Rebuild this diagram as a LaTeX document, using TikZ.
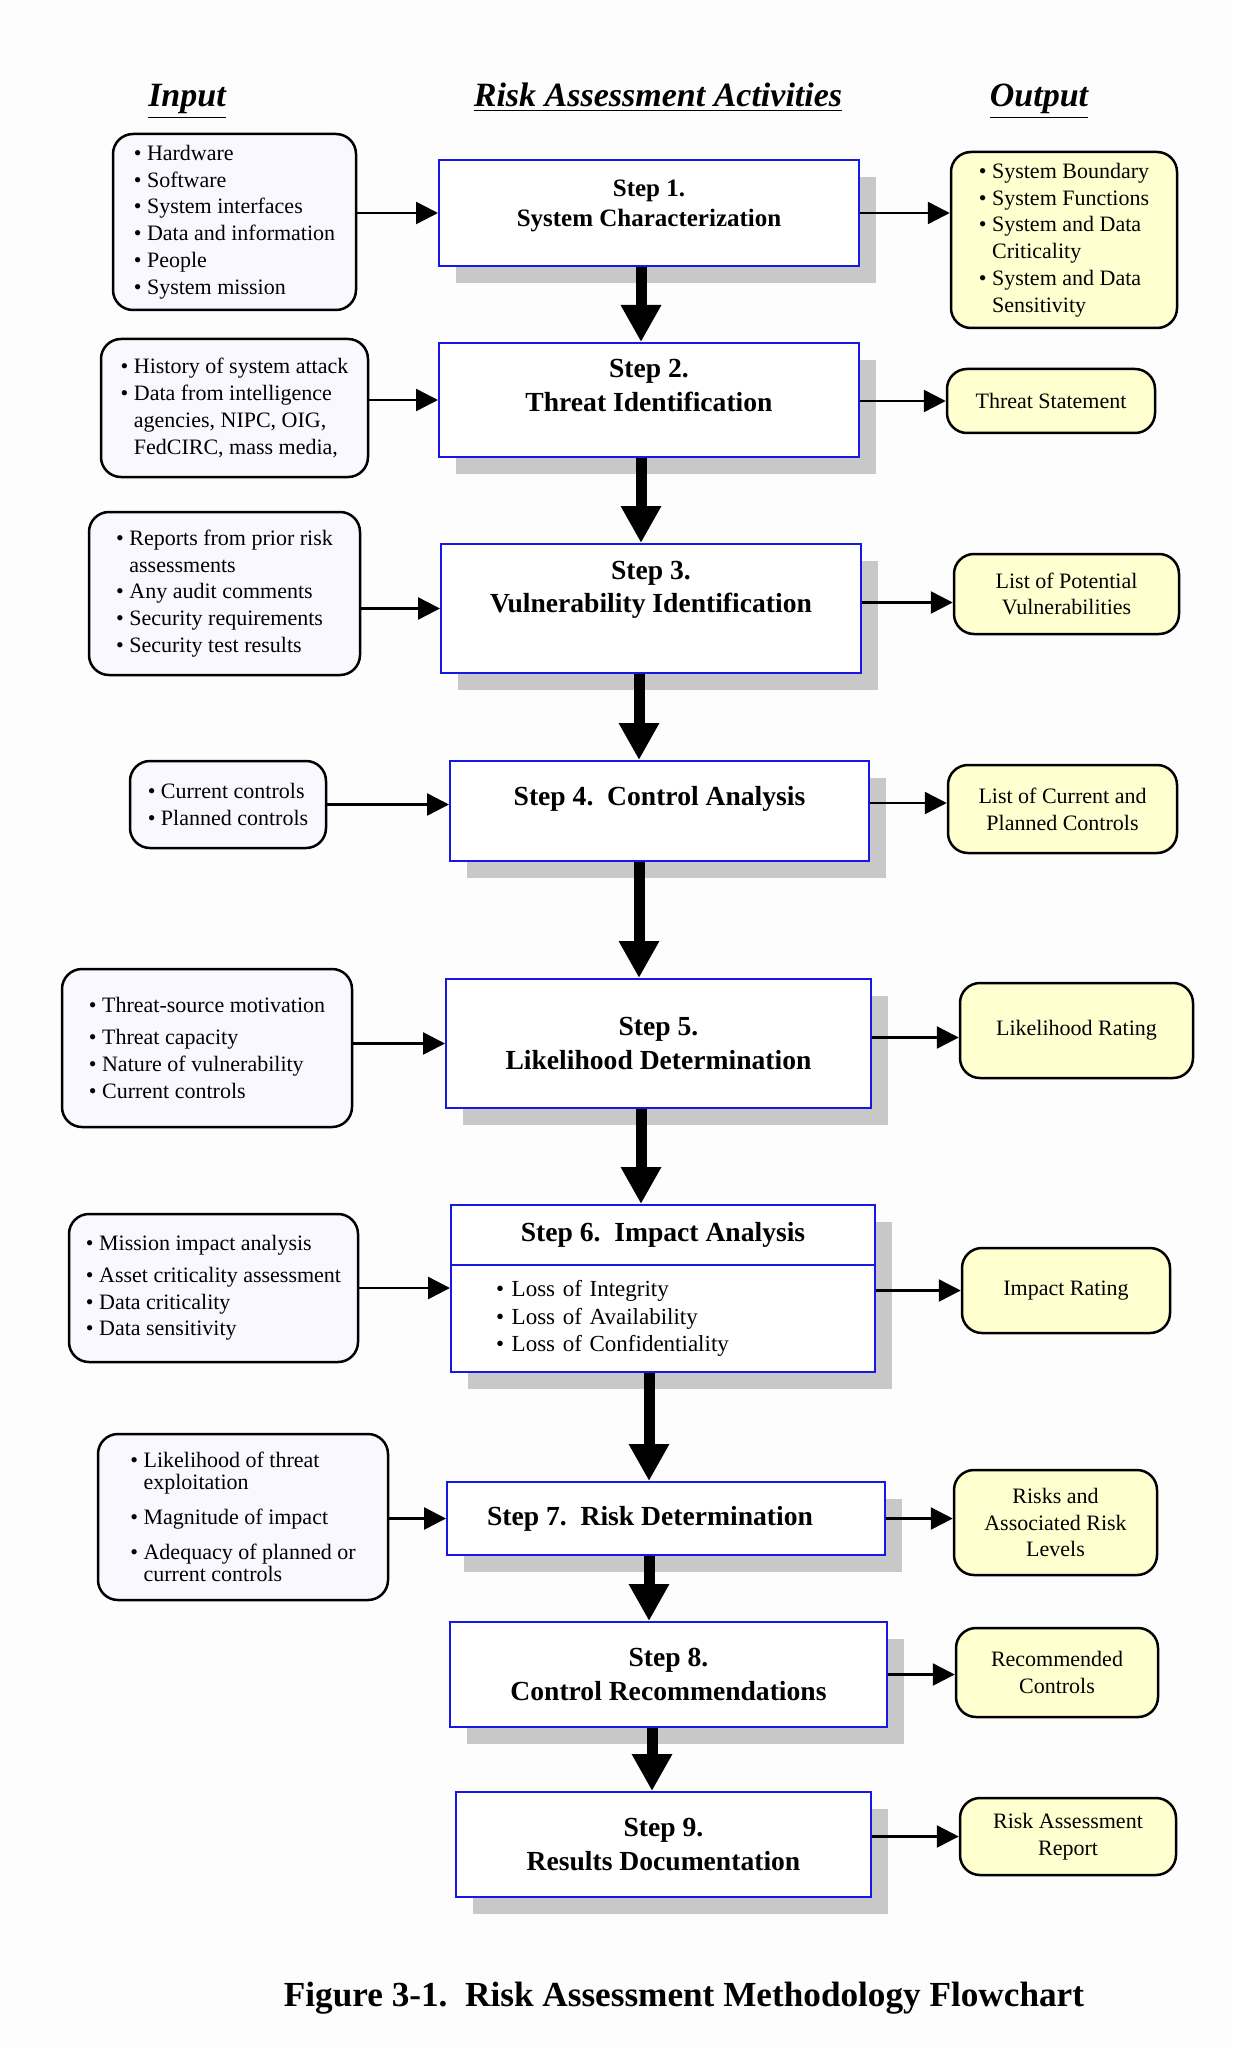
\documentclass[tikz,border=0pt]{standalone}
\usepackage{fontspec}
\setmainfont{Liberation Serif}
\usetikzlibrary{arrows.meta,positioning,shadows}
\definecolor{raBlue}{RGB}{24,24,230}
\definecolor{raShade}{RGB}{200,200,200}
\definecolor{raLilac}{RGB}{250,248,255}
\definecolor{raCream}{RGB}{255,255,208}
\definecolor{raPage}{RGB}{253,253,253}
\newcommand{\raitem}{\textbullet\ }
\newcommand{\rapad}{\phantom{\textbullet\ }}

\begin{document}
\begin{tikzpicture}[x=0.5pt,y=-0.5pt,
  stepbox/.style={draw=raBlue,line width=1pt,fill=white,align=center,inner sep=2pt,
    font=\fontsize{13.8}{16.8}\selectfont\bfseries,
    drop shadow={shadow xshift=8.5pt,shadow yshift=-8.5pt,fill=raShade,opacity=1}},
  inbox/.style={draw,line width=1.25pt,rounded corners=10pt,fill=raLilac,align=left,
    inner sep=3pt,font=\fontsize{11}{13.4}\selectfont},
  outbox/.style={inbox,fill=raCream,align=center},
  head/.style={anchor=base,font=\fontsize{17}{20}\selectfont\bfseries\itshape},
  flow/.style={line width=5.5pt,-{Triangle[length=18.5pt,width=19pt]}},
  feed/.style={line width=1.25pt,-{Triangle[length=11pt,width=11pt]}}]
  \fill[raPage] (0,0) rectangle (1232,2048);
  \useasboundingbox (0,0) rectangle (1232,2048);

  % column heads
  \node[head] (hin) at (187,107) {\underline{Input}};
  \node[head] (hact) at (658,107) {\underline{Risk Assessment Activities}};
  \node[head] (hout) at (1039,107) {\underline{Output}};

  % steps
  \node[stepbox,minimum width=210pt,minimum height=53pt,font=\fontsize{12.5}{15}\selectfont\bfseries]
    (s1) at (649,213) {Step 1.\\System Characterization\\[-5pt]\mbox{}};
  \node[stepbox,minimum width=210pt,minimum height=57pt] (s2) at (649,400)
    {Step 2.\\Threat Identification\\[-2pt]\mbox{}};
  \node[stepbox,minimum width=210pt,minimum height=64.5pt] (s3) at (651,608.5)
    {Step 3.\\Vulnerability Identification\\[5pt]\mbox{}};
  \node[stepbox,minimum width=209.5pt,minimum height=50pt] (s4) at (659.5,811)
    {Step 4.\ \ Control Analysis\\[-2pt]\mbox{}};
  \node[stepbox,minimum width=212.5pt,minimum height=64.5pt] (s5) at (658.5,1043.5)
    {Step 5.\\Likelihood Determination};
  \node[stepbox,minimum width=212pt,minimum height=30pt] (s6) at (663,1235)
    {Step 6.\ \ Impact Analysis};
  \node[stepbox,minimum height=53.5pt,align=left,inner xsep=22.5pt,text width=167pt,
    font=\fontsize{11.5}{13.75}\selectfont] (s6b) at (663,1318.5)
    {\raitem Loss of Integrity\\\raitem Loss of Availability\\\raitem Loss of Confidentiality};
  \node[stepbox,minimum width=219pt,minimum height=36.5pt] (s7) at (666,1518.5)
    {Step 7.\ \ Risk Determination\hspace*{16pt}};
  \node[stepbox,minimum width=218.5pt,minimum height=52.5pt] (s8) at (668.5,1674.5)
    {Step 8.\\Control Recommendations};
  \node[stepbox,minimum width=207.5pt,minimum height=52.5pt] (s9) at (663.5,1844.5)
    {Step 9.\\Results Documentation};

  % inputs
  \node[inbox,minimum width=121.5pt,minimum height=88pt] (in1) at (234.5,222)
    {\raitem Hardware\\\raitem Software\\\raitem System interfaces\\\raitem Data and information\\\raitem People\\\raitem System mission};
  \node[inbox,minimum width=133.5pt,minimum height=69pt] (in2) at (234.5,408)
    {\raitem History of system attack\\\raitem Data from intelligence\\\rapad agencies, NIPC, OIG,\\\rapad FedCIRC, mass media,};
  \node[inbox,minimum width=135.5pt,minimum height=81.5pt] (in3) at (224.5,593.5)
    {\raitem Reports from prior risk\\\rapad assessments\\\raitem Any audit comments\\\raitem Security requirements\\\raitem Security test results};
  \node[inbox,minimum width=98pt,minimum height=43.5pt] (in4) at (228,804.5)
    {\raitem Current controls\\\raitem Planned controls};
  \node[inbox,minimum width=145pt,minimum height=79pt] (in5) at (207,1048)
    {\raitem Threat-source motivation\\[2.5pt]\raitem Threat capacity\\\raitem Nature of vulnerability\\\raitem Current controls};
  \node[inbox,minimum width=144.5pt,minimum height=74pt] (in6) at (213.5,1288)
    {\raitem Mission impact analysis\\[2.5pt]\raitem Asset criticality assessment\\\raitem Data criticality\\\raitem Data sensitivity};
  \node[inbox,minimum width=145pt,minimum height=83pt,font=\fontsize{11}{11}\selectfont] (in7) at (243,1517)
    {\raitem Likelihood of threat\\\rapad exploitation\\[6.5pt]\raitem Magnitude of impact\\[6.5pt]\raitem Adequacy of planned or\\\rapad current controls};

  % outputs
  \node[outbox,align=left,minimum width=113pt,minimum height=88pt] (o1) at (1064,240)
    {\raitem System Boundary\\\raitem System Functions\\\raitem System and Data\\\rapad Criticality\\\raitem System and Data\\\rapad Sensitivity};
  \node[outbox,minimum width=104pt,minimum height=32pt] (o2) at (1051,401) {Threat Statement};
  \node[outbox,minimum width=112.5pt,minimum height=40pt] (o3) at (1066.5,594) {List of Potential\\Vulnerabilities};
  \node[outbox,minimum width=114.5pt,minimum height=44pt] (o4) at (1062.5,809) {List of Current and\\Planned Controls};
  \node[outbox,minimum width=116.5pt,minimum height=47.5pt] (o5) at (1076.5,1030.5) {Likelihood Rating};
  \node[outbox,minimum width=104pt,minimum height=42.5pt] (o6) at (1066,1290.5) {Impact Rating};
  \node[outbox,minimum width=101.5pt,minimum height=52.5pt] (o7) at (1055.5,1522.5) {Risks and\\Associated Risk\\Levels};
  \node[outbox,minimum width=101pt,minimum height=44.5pt] (o8) at (1057,1672.5) {Recommended\\Controls};
  \node[outbox,minimum width=108pt,minimum height=38.5pt] (o9) at (1068,1836.5) {Risk Assessment\\Report};

  % main flow
  \foreach \a/\b/\dx in {s1/s2/-4pt,s2/s3/-4pt,s3/s4/-6pt,s4/s5/-10.25pt,s5/s6/-8.75pt,
      s6b/s7/-7pt,s7/s8/-8.5pt,s8/s9/-8.25pt}
    \draw[flow] ([xshift=\dx]\a.south) -- ([xshift=\dx]\a.south |- \b.north);

  % inputs in
  \draw[feed] (s1.west -| in1.east) -- (s1.west);
  \draw[feed] (s2.west -| in2.east) -- (s2.west);
  \draw[feed] (s3.west -| in3.east) -- (s3.west);
  \draw[feed] (in4.east) -- (in4.east -| s4.west);
  \draw[feed] (s5.west -| in5.east) -- (s5.west);
  \draw[feed] (in6.east) -- (in6.east -| s6b.west);
  \draw[feed] (s7.west -| in7.east) -- (s7.west);

  % outputs out
  \draw[feed] (s1.east) -- (s1.east -| o1.west);
  \draw[feed] (o2.west -| s2.east) -- (o2.west);
  \draw[feed] ([yshift=3pt]s3.east) -- ([yshift=3pt]s3.east -| o3.west);
  \draw[feed] ([yshift=4pt]s4.east) -- ([yshift=4pt]s4.east -| o4.west);
  \draw[feed] ([yshift=3pt]s5.east) -- ([yshift=3pt]s5.east -| o5.west);
  \draw[feed] (o6.west -| s6b.east) -- (o6.west);
  \draw[feed] (s7.east) -- (s7.east -| o7.west);
  \draw[feed] (s8.east) -- (s8.east -| o8.west);
  \draw[feed] (o9.west -| s9.east) -- (o9.west);

  \node[anchor=base,font=\fontsize{17.6}{20}\selectfont\bfseries] (cap) at (684,2006)
    {Figure 3-1.\ \ Risk Assessment Methodology Flowchart};
\end{tikzpicture}
\end{document}
